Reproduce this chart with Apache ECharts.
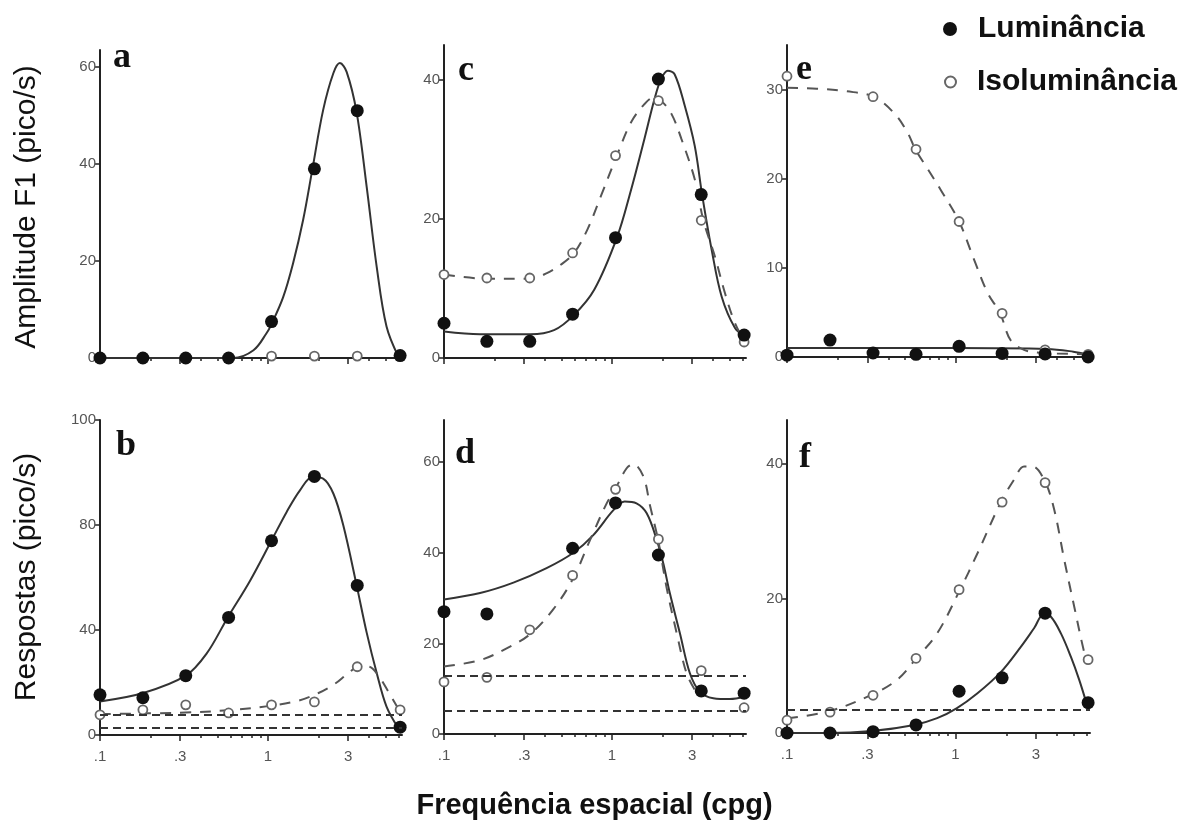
<!DOCTYPE html>
<html><head><meta charset="utf-8">
<script src="https://cdn.jsdelivr.net/npm/echarts@6/dist/echarts.min.js"></script>
<style>html,body{margin:0;padding:0;background:#fff}#c{width:1189px;height:827px}</style>
</head><body><div id="c"></div>
<script>
// ---------- data ----------
const freqs = [0.1, 0.18, 0.324, 0.583, 1.05, 1.89, 3.4, 6.12];
const xMajor = [0.1, 0.3, 1, 3];
const xMajorLabels = ['.1', '.3', '1', '3'];
const xMinor = [0.2, 0.4, 0.5, 0.6, 0.7, 0.8, 0.9, 2, 4, 5, 6];

// panel a
const lumA = [0, 0, 0, 0, 7.5, 39, 51, 0.5];
const isoA = [0, 0, 0, 0, 0.4, 0.4, 0.4, 0.5];
const fitLumAx = [0.1, 0.3, 0.62, 0.82, 0.98, 1.05, 1.23, 1.41, 1.62, 1.84, 2.13, 2.45, 2.68, 2.94, 3.37, 3.87, 4.44, 5.08, 5.97];
const fitLumAy = [0, 0, 0, 1.6, 5.1, 7.0, 12.5, 19.5, 28.5, 39, 51.1, 58.7, 60.8, 59, 50.7, 35.3, 18.8, 6.5, 0.3];
const yTicksA = [0, 20, 40, 60];

// panel c
const lumC = [5.0, 2.4, 2.4, 6.3, 17.3, 40.1, 23.5, 3.3];
const isoC = [12, 11.5, 11.5, 15.1, 29.1, 37, 19.8, 2.3];
const fitLumCx = [0.1, 0.164, 0.327, 0.452, 0.595, 0.784, 1.07, 1.30, 1.56, 1.79, 1.96, 2.15, 2.36, 2.71, 3.11, 3.44, 3.92, 4.5, 5.4, 6.15];
const fitLumCy = [3.8, 3.4, 3.4, 4.0, 6.2, 9.8, 17.3, 24.2, 31.5, 37.2, 40.1, 41.3, 40.8, 36.3, 30.5, 23.5, 15.6, 8.8, 4.3, 3.2];
const fitIsoCx = [0.1, 0.18, 0.327, 0.41, 0.495, 0.595, 0.715, 0.86, 1.07, 1.30, 1.56, 1.79, 1.96, 2.26, 2.59, 3.11, 3.5, 4.1, 4.71, 5.4, 6.15];
const fitIsoCy = [12.0, 11.4, 11.4, 12.2, 13.4, 15.1, 18.5, 23.3, 29.1, 33.9, 36.5, 37.5, 37.0, 35.1, 31.5, 25.7, 19.8, 14.6, 9.3, 5.0, 2.4];
const yTicksC = [0, 20, 40];

// panel e
const lumE = [0.2, 1.9, 0.45, 0.3, 1.2, 0.4, 0.35, 0];
const isoE = [31.5, null, 29.2, 23.3, 15.2, 4.9, 0.8, 0.3];
const fitLumEx = [0.1, 1.0, 3.5, 5.0, 6.1];
const fitLumEy = [1.0, 1.0, 0.9, 0.6, 0.3];
const fitIsoEx = [0.1, 0.15, 0.227, 0.326, 0.43, 0.515, 0.578, 0.678, 0.814, 1.05, 1.29, 1.55, 1.84, 2.12, 2.55, 3.06, 4.0, 6.1];
const fitIsoEy = [30.2, 30.1, 29.8, 29.2, 27.4, 25.3, 23.3, 21.2, 18.8, 15.2, 10.9, 7.2, 4.9, 1.9, 0.8, 0.5, 0.4, 0.3];
const yTicksE = [0, 10, 20, 30];

// panel b
const lumB = [15.3, 14.2, 22.6, 44.8, 74, 98.5, 57, 3];
const isoB = [7.7, 9.6, 11.5, 8.4, 11.5, 12.6, 26, 9.6];
const fitLumBx = [0.1, 0.181, 0.324, 0.431, 0.575, 0.781, 1.05, 1.29, 1.55, 1.84, 2.13, 2.45, 2.81, 3.37, 3.87, 4.44, 5.08, 5.97];
const fitLumBy = [12.8, 16.0, 22.6, 31, 44.7, 58.7, 74.1, 84.9, 93.2, 98.3, 97.7, 92, 79.8, 57.1, 39, 23.6, 10.8, 2.6];
const fitIsoBx = [0.1, 0.3, 0.6, 1.0, 1.5, 2.0, 2.5, 3.0, 3.5, 4.0, 4.5, 5.1, 5.97];
const fitIsoBy = [8.0, 8.5, 9.5, 11, 13, 16, 19.5, 23.5, 26.2, 26, 23, 17.5, 10];
const baseB = [7.7, 2.6];
const yTicksB = [0, 40, 80, 120];
const yLabelsB = ['0', '40', '80', '100'];

// panel d
const lumD = [27, 26.5, null, 41, 51, 39.5, 9.5, 9];
const isoD = [11.5, 12.5, 23, 35, 54, 43, 14, 5.8];
const fitLumDx = [0.1, 0.164, 0.259, 0.408, 0.589, 0.774, 1.02, 1.19, 1.40, 1.61, 1.85, 2.02, 2.21, 2.54, 2.91, 3.34, 4.01, 5.04, 6.15];
const fitLumDy = [29.7, 31.1, 33.4, 36.6, 40.0, 43.9, 49.4, 51.3, 50.9, 48.7, 42.8, 37.7, 31.1, 22.2, 13.4, 9.3, 7.9, 7.7, 8.2];
const fitIsoDx = [0.1, 0.164, 0.236, 0.325, 0.447, 0.589, 0.74, 0.93, 1.04, 1.22, 1.34, 1.54, 1.68, 1.89, 2.11, 2.43, 2.78, 3.12];
const fitIsoDy = [14.9, 16.3, 18.9, 22, 27.5, 34.4, 42.8, 50.9, 53.9, 58.6, 59.6, 56.8, 50.6, 42.5, 32.5, 22.2, 13.4, 9.7];
const baseD = [12.8, 5.1];
const yTicksD = [0, 20, 40, 60];

// panel f
const lumF = [0, 0, 0.2, 1.2, 6.2, 8.2, 17.8, 4.5];
const isoF = [1.9, 3.1, 5.6, 11.1, 21.3, 34.3, 37.2, 10.9];
const fitLumFx = [0.1, 0.176, 0.319, 0.57, 0.778, 1.02, 1.35, 1.85, 2.44, 2.93, 3.33, 3.67, 4.22, 4.84, 5.42, 5.94];
const fitLumFy = [0, 0, 0.3, 1.2, 2.2, 3.7, 5.9, 9.0, 12.8, 15.6, 17.6, 17.3, 14.8, 11.3, 7.9, 4.7];
const fitIsoFx = [0.1, 0.176, 0.319, 0.45, 0.586, 0.778, 1.05, 1.35, 1.85, 2.22, 2.55, 2.86, 3.39, 3.85, 4.42, 5.06, 5.8, 6.1];
const fitIsoFy = [2.2, 3.2, 5.7, 7.9, 11.1, 14.8, 21.0, 26.7, 34.2, 37.6, 39.6, 39.6, 37.4, 33.2, 25.7, 18.8, 12, 10.4];
const baseF = [3.4];
const yTicksF = [0, 20, 40];

// ---------- layout ----------
const zip = (xs, ys) => xs.map((x, i) => [x, ys[i]]);
const panels = [
  {letter:'a', grid:{left:100, top:50, width:302, height:308}, ymax:63.5, yTicks:yTicksA, lum:lumA, iso:isoA,
   fitLum:zip(fitLumAx, fitLumAy), fitIso:null, base:[], bottom:false, lx:113, ly:60},
  {letter:'c', grid:{left:444, top:45, width:302, height:313}, ymax:45, yTicks:yTicksC, lum:lumC, iso:isoC,
   fitLum:zip(fitLumCx, fitLumCy), fitIso:zip(fitIsoCx, fitIsoCy), base:[], bottom:false, lx:458, ly:73},
  {letter:'e', grid:{left:787, top:45, width:303, height:312}, ymax:35, yTicks:yTicksE, lum:lumE, iso:isoE,
   fitLum:zip(fitLumEx, fitLumEy), fitIso:zip(fitIsoEx, fitIsoEy), base:[], bottom:false, lx:796, ly:72},
  {letter:'b', grid:{left:100, top:420, width:302, height:315}, ymax:120, yTicks:yTicksB, yLabels:yLabelsB, lum:lumB, iso:isoB,
   fitLum:zip(fitLumBx, fitLumBy), fitIso:zip(fitIsoBx, fitIsoBy), base:baseB, bottom:true, lx:116, ly:448},
  {letter:'d', grid:{left:444, top:420, width:302, height:314}, ymax:69.3, yTicks:yTicksD, lum:lumD, iso:isoD,
   fitLum:zip(fitLumDx, fitLumDy), fitIso:zip(fitIsoDx, fitIsoDy), base:baseD, bottom:true, lx:455, ly:456},
  {letter:'f', grid:{left:787, top:420, width:303, height:313}, ymax:46.5, yTicks:yTicksF, lum:lumF, iso:isoF,
   fitLum:zip(fitLumFx, fitLumFy), fitIso:zip(fitIsoFx, fitIsoFy), base:baseF, bottom:true, lx:799, ly:460}
];

const AX = '#222';
const tickFont = {fontFamily:'Liberation Sans', fontSize:15, color:'#555'};
const grids = [], xAxes = [], yAxes = [], series = [], graphics = [];

panels.forEach((p, i) => {
  grids.push(Object.assign({containLabel:false}, p.grid));
  const xi = xAxes.length;
  xAxes.push({
    type:'log', logBase:10, gridIndex:i, position:'bottom', min:0.1, max:6.28,
    axisLine:{show:true, onZero:false, lineStyle:{color:AX, width:2}},
    axisTick:{show:true, customValues:xMajor, length:6, lineStyle:{color:AX, width:1.5}},
    axisLabel:Object.assign({show:p.bottom, customValues:xMajor, margin:14,
      formatter:(v) => { let best = 0; xMajor.forEach((m, k) => { if (Math.abs(Math.log10(m) - Math.log10(v)) < Math.abs(Math.log10(xMajor[best]) - Math.log10(v))) best = k; }); return xMajorLabels[best]; }
    }, tickFont),
    splitLine:{show:false}, minorTick:{show:false}
  });
  xAxes.push({
    type:'log', logBase:10, gridIndex:i, position:'bottom', min:0.1, max:6.28,
    axisLine:{show:false, onZero:false},
    axisTick:{show:true, customValues:xMinor, length:3, lineStyle:{color:AX, width:1.5}},
    axisLabel:{show:false}, splitLine:{show:false}
  });
  yAxes.push({
    type:'value', gridIndex:i, min:0, max:p.ymax,
    axisLine:{show:true, onZero:false, lineStyle:{color:AX, width:2}},
    axisTick:{show:true, customValues:p.yTicks, length:5, lineStyle:{color:AX, width:1.5}},
    axisLabel:Object.assign({customValues:p.yTicks, margin:4,
      formatter:(v) => { if (p.yLabels) { const k = p.yTicks.indexOf(v); return k >= 0 ? p.yLabels[k] : ''; } return String(v); }
    }, tickFont),
    splitLine:{show:false}
  });
  series.push({
    type:'line', name:'fitLum'+p.letter, xAxisIndex:xi, yAxisIndex:i, data:p.fitLum,
    smooth:0.35, showSymbol:false, silent:true, clip:false, z:2,
    lineStyle:{color:'#333', width:2}
  });
  if (p.fitIso) {
    series.push({
      type:'line', name:'fitIso'+p.letter, xAxisIndex:xi, yAxisIndex:i, data:p.fitIso,
      smooth:0.35, showSymbol:false, silent:true, clip:false, z:2,
      lineStyle:{color:'#555', width:2, type:[11, 9]}
    });
  }
  if (p.base.length) {
    series.push({
      type:'line', name:'base'+p.letter, xAxisIndex:xi, yAxisIndex:i, data:[], silent:true, z:2,
      markLine:{silent:true, symbol:'none', label:{show:false},
        lineStyle:{type:[8, 5], color:'#333', width:2},
        data:p.base.map(v => ({yAxis:v}))}
    });
  }
  series.push({
    type:'scatter', name:'Isoluminância', xAxisIndex:xi, yAxisIndex:i,
    data:zip(freqs, p.iso).filter(d => d[1] !== null), symbol:'circle', symbolSize:9, clip:false, z:3,
    itemStyle:{color:'#fff', borderColor:'#666', borderWidth:1.8, opacity:1}
  });
  series.push({
    type:'scatter', name:'Luminância', xAxisIndex:xi, yAxisIndex:i,
    data:zip(freqs, p.lum).filter(d => d[1] !== null), symbol:'circle', symbolSize:13, clip:false, z:4,
    itemStyle:{color:'#111', opacity:1}
  });
  graphics.push({type:'text', left:p.lx, top:p.ly - 20, z:10,
    style:{text:p.letter, fontFamily:'Liberation Serif', fontWeight:'bold', fontSize:36, fill:'#111'}});
});

graphics.push({type:'text', left:'center', top:791, z:10,
  style:{text:'Frequência espacial (cpg)', fontFamily:'Liberation Sans', fontWeight:'bold', fontSize:29, fill:'#111'}});
graphics.push({type:'text', x:27, y:207, rotation:Math.PI/2, z:10,
  style:{text:'Amplitude F1 (pico/s)', fontFamily:'Liberation Sans', fontSize:30, fill:'#111', align:'center', verticalAlign:'middle'}});
graphics.push({type:'text', x:27, y:577, rotation:Math.PI/2, z:10,
  style:{text:'Respostas (pico/s)', fontFamily:'Liberation Sans', fontSize:30, fill:'#111', align:'center', verticalAlign:'middle'}});

const legendText = {fontFamily:'Liberation Sans', fontWeight:'bold', fontSize:30, color:'#111', padding:[0, 0, 0, 16]};
const chart = echarts.init(document.getElementById('c'), null, {renderer:'canvas'});
chart.setOption({
  animation:false,
  backgroundColor:'#fff',
  grid:grids, xAxis:xAxes, yAxis:yAxes, series:series, graphic:graphics,
  legend:[
    {data:['Luminância'], left:938, top:9, itemWidth:14, itemHeight:14, selectedMode:false, textStyle:legendText},
    {data:['Isoluminância'], left:939, top:62, itemWidth:11, itemHeight:11, selectedMode:false, textStyle:legendText}
  ]
});
</script>
</body></html>
